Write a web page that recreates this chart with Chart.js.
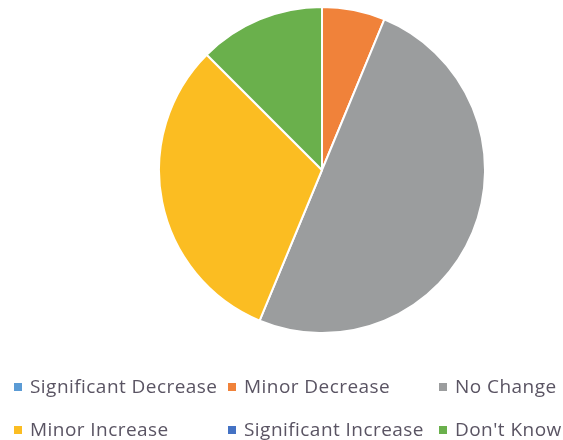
<!DOCTYPE html>
<html>
<head>
<meta charset="utf-8">
<script src="https://cdn.jsdelivr.net/npm/chart.js@4"></script>
<style>
  html, body { margin: 0; padding: 0; background: #fff; }
  #wrap { position: relative; width: 563px; height: 440px; overflow: hidden; }
  #pieBox { position: absolute; left: 158px; top: 6px; width: 328px; height: 328px; }
  #legend { position: absolute; left: 0; top: 0; width: 563px; height: 440px; font-family: "Open Sans", "Noto Sans", sans-serif; font-size: 19px; letter-spacing: 0.45px; color: #5a5463; }
  .item { position: absolute; white-space: nowrap; height: 24px; line-height: 24px; }
  .box { display: inline-block; width: 8px; height: 8px; margin-right: 8px; vertical-align: middle; position: relative; top: -1px; }
</style>
</head>
<body>
<div id="wrap">
  <div id="pieBox"><canvas id="pie"></canvas></div>
  <div id="legend"></div>
</div>
<script>
// Survey responses per answer
const categories = ["Significant Decrease", "Minor Decrease", "No Change", "Minor Increase", "Significant Increase", "Don't Know"];
const responses = [0, 1, 8, 5, 0, 2];
const sliceColors = ["#5b9bd5", "#f0823a", "#9b9d9e", "#fbbd22", "#4472c4", "#6ab04c"];

// legend grid placement: column left edges and row centre lines
const legendCols = [14, 228, 439];
const legendRows = [386, 429];

const chart = new Chart(document.getElementById("pie"), {
  type: "pie",
  data: {
    labels: categories,
    datasets: [{
      data: responses,
      backgroundColor: sliceColors,
      borderColor: "#ffffff",
      borderWidth: 2
    }]
  },
  options: {
    responsive: true,
    maintainAspectRatio: false,
    animation: false,
    layout: { padding: 0 },
    plugins: {
      legend: { display: false },
      tooltip: { enabled: false }
    }
  }
});

// HTML legend laid out as a 3-column grid
const legendEl = document.getElementById("legend");
chart.options.plugins.legend.labels.generateLabels(chart).forEach((lab, i) => {
  const div = document.createElement("div");
  div.className = "item";
  div.style.left = legendCols[i % 3] + "px";
  div.style.top = (legendRows[Math.floor(i / 3)] - 12) + "px";
  const box = document.createElement("span");
  box.className = "box";
  box.style.background = lab.fillStyle;
  div.appendChild(box);
  div.appendChild(document.createTextNode(lab.text));
  legendEl.appendChild(div);
});
</script>
</body>
</html>
